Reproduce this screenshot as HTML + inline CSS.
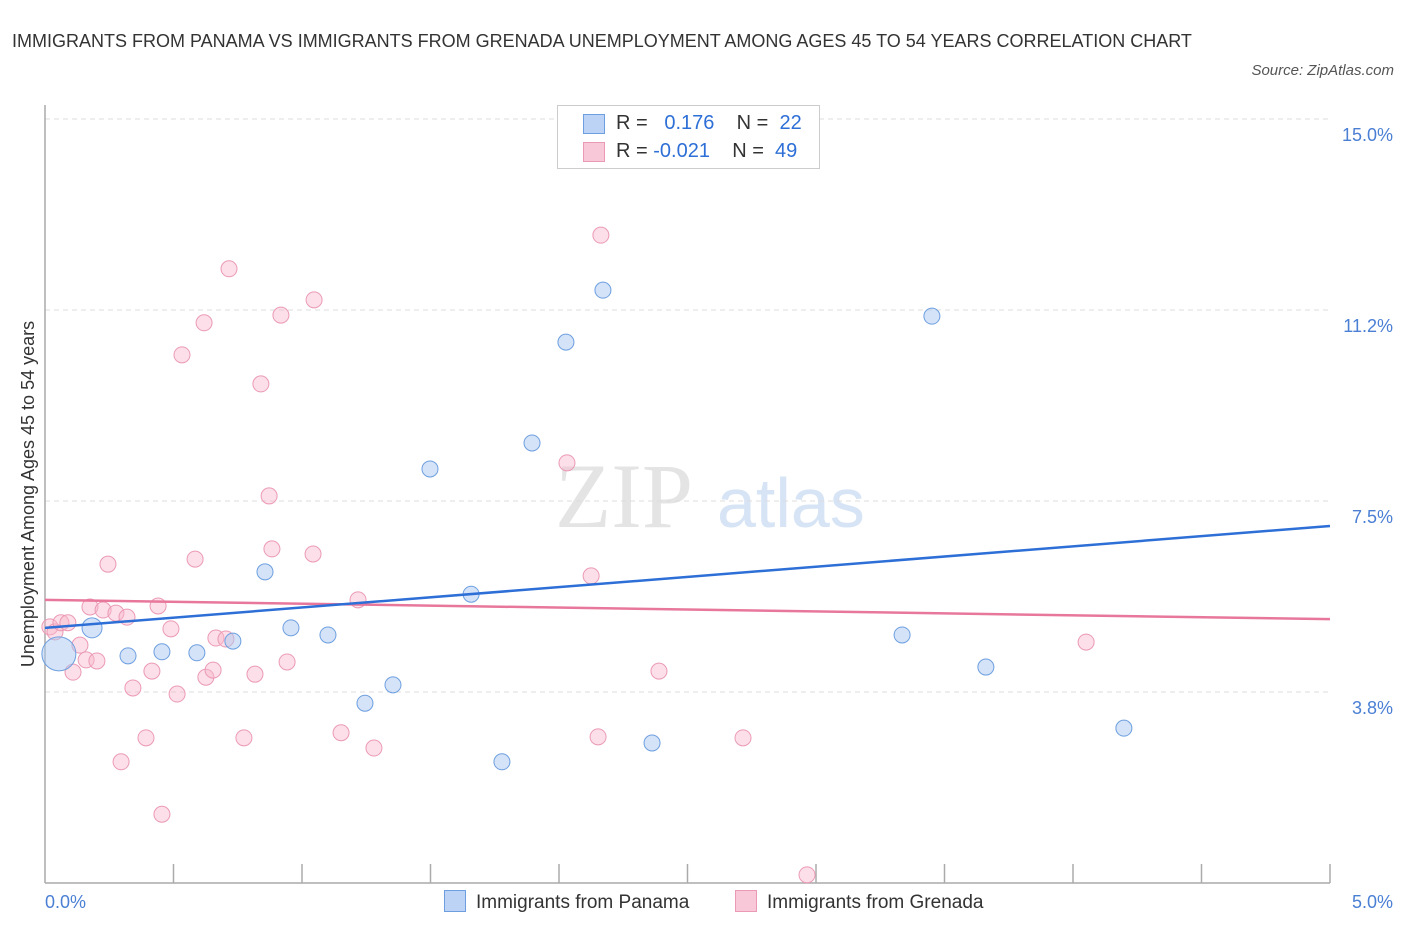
<!DOCTYPE html>
<html><head><meta charset="utf-8"><style>
body{margin:0;background:#fff;font-family:"Liberation Sans",sans-serif;}
#wrap{position:relative;width:1406px;height:930px;overflow:hidden}
.t{position:absolute;white-space:nowrap}
</style></head><body>
<div id="wrap">
<div class="t" style="left:12px;top:22px;font-size:18px;color:#333;line-height:38px;width:1200px;white-space:normal">IMMIGRANTS FROM PANAMA VS IMMIGRANTS FROM GRENADA UNEMPLOYMENT AMONG AGES 45 TO 54 YEARS CORRELATION CHART</div>
<div class="t" style="right:12px;top:62px;font-size:15px;color:#555;font-style:italic">Source: ZipAtlas.com</div>
<svg id="svg" width="1406" height="930" style="position:absolute;left:0;top:0"></svg>
</div>
<script>
const xTicks=[0,0.5,1,1.5,2,2.5,3,3.5,4,4.5,5];
const yTicks=[15,11.25,7.5,3.75];
const yTickLabels=["15.0%","11.2%","7.5%","3.8%"];
const panamaX=[0.054,0.183,0.323,0.455,0.591,0.731,0.856,0.957,1.101,1.245,1.354,1.498,1.658,1.778,1.895,2.027,2.171,2.362,3.335,3.451,3.661,4.198];
const panamaY=[4.50,5.01,4.46,4.54,4.52,4.75,6.11,5.01,4.87,3.53,3.89,8.13,5.67,2.38,8.64,10.62,11.64,2.75,4.87,11.13,4.24,3.04];
const panamaR=[17,10,8,8,8,8,8,8,8,8,8,8,8,8,8,8,8,8,8,8,8,8];
const grenadaX=[0.019,0.039,0.062,0.089,0.136,0.109,0.160,0.202,0.175,0.226,0.276,0.319,0.245,0.342,0.393,0.296,0.416,0.440,0.455,0.490,0.514,0.533,0.584,0.619,0.626,0.654,0.665,0.704,0.716,0.774,0.817,0.840,0.872,0.883,0.918,0.942,1.043,1.047,1.152,1.218,1.280,2.031,2.125,2.152,2.163,2.389,2.716,2.965,4.051];
const grenadaY=[5.03,4.93,5.11,5.11,4.67,4.14,4.38,4.36,5.42,5.36,5.30,5.22,6.26,3.83,2.85,2.38,4.16,5.44,1.35,4.99,3.71,10.37,6.36,11.00,4.04,4.18,4.81,4.79,12.06,2.85,4.10,9.80,7.60,6.56,11.15,4.34,6.46,11.45,2.95,5.56,2.65,8.25,6.03,2.87,12.72,4.16,2.85,0.16,4.73];
const panamaTrend=[5.01,7.01];
const grenadaTrend=[5.56,5.18];
const X=v=>45+v*257;
const Y=v=>883-v*50.93;
const svg=document.getElementById('svg');
const NS='http://www.w3.org/2000/svg';
function mk(tag,at,parent){const e=document.createElementNS(NS,tag);for(const k in at)e.setAttribute(k,at[k]);(parent||svg).appendChild(e);return e;}
// watermark
let w=mk('text',{x:555,y:527,'font-size':92,fill:'#e4e4e4','font-family':'Liberation Serif, serif'});w.textContent='ZIP';


w=mk('text',{x:717,y:527,'font-size':70,fill:'#d6e4f5','font-family':'Liberation Sans, sans-serif'});w.textContent='atlas';


yTicks.forEach((v,i)=>{
 const g=mk('line',{x1:45,x2:1330,y1:Y(v),y2:Y(v),stroke:'#ddd','stroke-dasharray':'5,4'});
 
 
 const t=mk('text',{x:1393,y:Y(v)+22,'text-anchor':'end','font-size':18,fill:'#4a7fd4'});t.textContent=yTickLabels[i];
 
 
});
let a=mk('line',{x1:45,x2:45,y1:105,y2:883,stroke:'#aaa','stroke-width':1.5});


a=mk('line',{x1:45,x2:1330,y1:883,y2:883,stroke:'#aaa','stroke-width':1.5});


xTicks.forEach((v,i)=>{if(i==0)return;
 const t=mk('line',{x1:X(v),x2:X(v),y1:864,y2:883,stroke:'#aaa','stroke-width':1.5});
 
 
});
let l=mk('text',{x:45,y:908,'font-size':18,fill:'#4a7fd4'});l.textContent='0.0%';


l=mk('text',{x:1393,y:908,'font-size':18,fill:'#4a7fd4','text-anchor':'end'});l.textContent='5.0%';


l=mk('text',{x:0,y:0,'font-size':18,fill:'#333','text-anchor':'middle',transform:'translate(34,494) rotate(-90)'});l.textContent='Unemployment Among Ages 45 to 54 years';


grenadaX.forEach((v,i)=>{
 const c=mk('circle',{cx:X(v),cy:Y(grenadaY[i]),r:8,fill:'rgba(248,183,205,0.45)',stroke:'#eb9ab5','stroke-width':1});
 
 
});
panamaX.forEach((v,i)=>{
 const c=mk('circle',{cx:X(v),cy:Y(panamaY[i]),r:panamaR[i],fill:'rgba(170,200,240,0.5)',stroke:'#6d9fe0','stroke-width':1});
 
 
});
let tl=mk('line',{x1:X(0),x2:X(5),y1:Y(grenadaTrend[0]),y2:Y(grenadaTrend[1]),stroke:'#e8779c','stroke-width':2.5});


tl=mk('line',{x1:X(0),x2:X(5),y1:Y(panamaTrend[0]),y2:Y(panamaTrend[1]),stroke:'#2d6fd6','stroke-width':2.5});


</script>
<div class="t" style="left:557px;top:105px;width:261px;height:62px;border:1px solid #ccc;background:#fff;font-size:20px;color:#333">
 <div style="position:absolute;left:25px;top:8px;width:20px;height:18px;background:#bcd3f5;border:1px solid #6d9fe0"></div>
 <div style="position:absolute;left:58px;top:6px">R = &nbsp;&nbsp;<span style="color:#2d6fd6">0.176</span>&nbsp;&nbsp;&nbsp; N = &nbsp;<span style="color:#2d6fd6">22</span></div>
 <div style="position:absolute;left:25px;top:36px;width:20px;height:18px;background:#f9c8d8;border:1px solid #eb9ab5"></div>
 <div style="position:absolute;left:58px;top:34px">R = <span style="color:#2d6fd6">-0.021</span>&nbsp;&nbsp;&nbsp; N = &nbsp;<span style="color:#2d6fd6">49</span></div>
</div>
<div class="t" style="left:444px;top:890px;font-size:19px;color:#333"><span style="display:inline-block;width:20px;height:20px;background:#bcd3f5;border:1px solid #6d9fe0;vertical-align:-4px;margin-right:10px"></span>Immigrants from Panama</div>
<div class="t" style="left:735px;top:890px;font-size:19px;color:#333"><span style="display:inline-block;width:20px;height:20px;background:#f9c8d8;border:1px solid #eb9ab5;vertical-align:-4px;margin-right:10px"></span>Immigrants from Grenada</div>
</body></html>
